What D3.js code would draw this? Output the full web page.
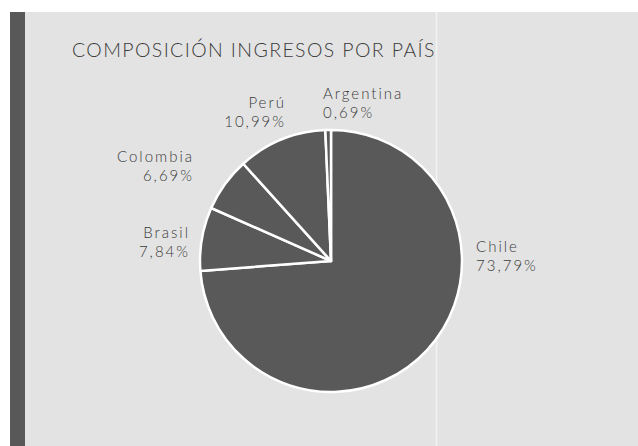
<!DOCTYPE html>
<head>
    <meta charset="utf-8">
    <script src="https://cdnjs.cloudflare.com/ajax/libs/d3/7.8.5/d3.min.js" charset="utf-8"></script>
    <style>
        html, body {
            margin: 0px;
            padding: 0px;
            background: #ffffff;
        }
        svg {
            display: block;
        }
        text {
            font-family: Lato, "Open Sans", sans-serif;
            font-weight: 300;
            fill: #3b3b3b;
        }
    </style>
</head>

<body>

<svg id="chart1" width="638" height="446"></svg>

<script>
// data, as printed in the figure
var paises = ["Chile", "Brasil", "Colombia", "Perú", "Argentina"];
var porcentajes = [73.79, 7.84, 6.69, 10.99, 0.69];
var etiquetas = ["73,79%", "7,84%", "6,69%", "10,99%", "0,69%"];
var titulo = "COMPOSICIÓN INGRESOS POR PAÍS";

var width = 638,
    height = 446;

// where each label sits, relative to the pie centre (hand placed like the original)
var labelLayout = [
    { dx: 145, dy: -9,   anchor: "start" },
    { dx: -143, dy: -23, anchor: "end" },
    { dx: -139, dy: -99, anchor: "end" },
    { dx: -47, dy: -153, anchor: "end" },
    { dx: -8,  dy: -162, anchor: "start" }
];
var spacing = 2; // letter spacing of labels, also trailing after last glyph

var svg = d3.select('#chart1');

// grey panel, dark strip on the left, faint fold line
svg.append('rect')
    .attr('x', 10).attr('y', 12)
    .attr('width', width - 10).attr('height', height - 12)
    .attr('fill', '#e3e3e3');
svg.append('rect')
    .attr('x', 10).attr('y', 12)
    .attr('width', 15).attr('height', height - 12)
    .attr('fill', '#585858');
svg.append('line')
    .attr('x1', 436.5).attr('x2', 436.5)
    .attr('y1', 12).attr('y2', height)
    .attr('stroke', '#f3f3f3')
    .attr('stroke-width', 1.5);

svg.append('text')
    .attr('x', 72)
    .attr('y', 57)
    .style('font-size', '19.5px')
    .style('letter-spacing', '1.4px')
    .text(titulo);

var cx = 331, cy = 261, r = 131;

var pie = d3.pie()
    .sort(null)
    .value(function(d) { return d; });

var arc = d3.arc()
    .innerRadius(0)
    .outerRadius(r);

var g = svg.append('g')
    .attr('transform', 'translate(' + cx + ',' + cy + ')');

var arcs = pie(porcentajes);

g.selectAll('path')
    .data(arcs)
    .enter().append('path')
    .attr('d', arc)
    .attr('fill', '#595959')
    .attr('stroke', '#ffffff')
    .attr('stroke-width', 2.5)
    .attr('stroke-linejoin', 'round');

function labelX(d, i) {
    var l = labelLayout[i];
    return l.anchor === "end" ? l.dx + spacing : l.dx;
}

var labels = g.selectAll('text.lbl')
    .data(arcs)
    .enter().append('text')
    .attr('class', 'lbl')
    .attr('text-anchor', function(d, i) { return labelLayout[i].anchor; })
    .style('font-size', '15px')
    .style('letter-spacing', spacing + 'px');

labels.append('tspan')
    .attr('x', labelX)
    .attr('y', function(d, i) { return labelLayout[i].dy; })
    .text(function(d, i) { return paises[i]; });

labels.append('tspan')
    .attr('x', labelX)
    .attr('y', function(d, i) { return labelLayout[i].dy + 18.5; })
    .text(function(d, i) { return etiquetas[i]; });

</script>

</body>
</html>
